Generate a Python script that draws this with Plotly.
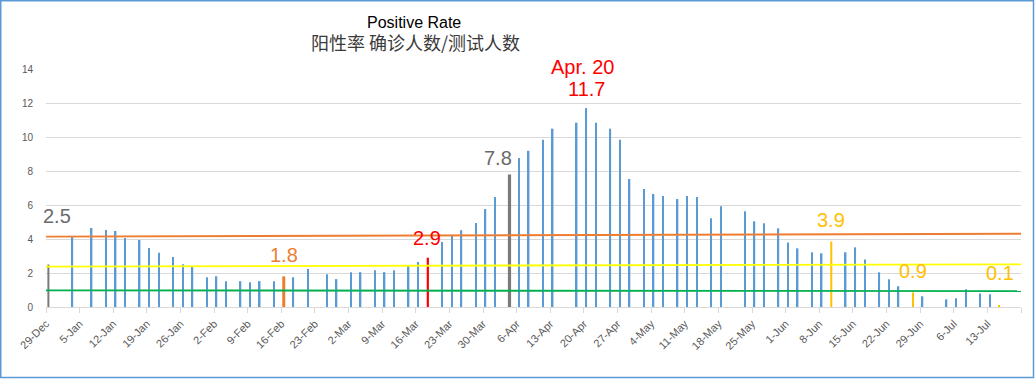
import plotly.graph_objects as go
import pandas as pd

# ---------------- data ----------------
tick_labels = ["29-Dec", "5-Jan", "12-Jan", "19-Jan", "26-Jan", "2-Feb", "9-Feb", "16-Feb",
               "23-Feb", "2-Mar", "9-Mar", "16-Mar", "23-Mar", "30-Mar", "6-Apr", "13-Apr",
               "20-Apr", "27-Apr", "4-May", "11-May", "18-May", "25-May", "1-Jun", "8-Jun",
               "15-Jun", "22-Jun", "29-Jun", "6-Jul", "13-Jul", ""]

blue_dates = ["2021-01-03", "2021-01-07", "2021-01-10", "2021-01-12", "2021-01-14", "2021-01-17",
              "2021-01-19", "2021-01-21", "2021-01-24", "2021-01-26", "2021-01-28", "2021-01-31",
              "2021-02-02", "2021-02-04", "2021-02-07", "2021-02-09", "2021-02-11", "2021-02-14",
              "2021-02-18", "2021-02-21", "2021-02-25", "2021-02-27", "2021-03-02", "2021-03-04",
              "2021-03-07", "2021-03-09", "2021-03-11", "2021-03-14", "2021-03-16", "2021-03-21",
              "2021-03-23", "2021-03-25", "2021-03-28", "2021-03-30", "2021-04-01", "2021-04-06",
              "2021-04-08", "2021-04-11", "2021-04-13", "2021-04-18", "2021-04-20", "2021-04-22",
              "2021-04-25", "2021-04-27", "2021-04-29", "2021-05-02", "2021-05-04", "2021-05-06",
              "2021-05-09", "2021-05-11", "2021-05-13", "2021-05-16", "2021-05-18", "2021-05-23",
              "2021-05-25", "2021-05-27", "2021-05-30", "2021-06-01", "2021-06-03", "2021-06-06",
              "2021-06-08", "2021-06-13", "2021-06-15", "2021-06-17", "2021-06-20", "2021-06-22",
              "2021-06-24", "2021-06-29", "2021-07-04", "2021-07-06", "2021-07-08", "2021-07-11",
              "2021-07-13"]
blue_values = [4.14, 4.65, 4.53, 4.47, 4.06, 3.94,
               3.47, 3.19, 2.94, 2.52, 2.36, 1.75,
               1.81, 1.52, 1.52, 1.46, 1.52, 1.52,
               1.75, 2.23, 1.93, 1.64, 2.05, 2.05,
               2.16, 2.05, 2.16, 2.44, 2.65, 3.82,
               4.17, 4.52, 4.94, 5.76, 6.47, 8.77,
               9.19, 9.84, 10.49, 10.84, 11.7, 10.84,
               10.49, 9.84, 7.53, 6.94, 6.65, 6.53,
               6.35, 6.53, 6.47, 5.22, 5.92, 5.63,
               5.04, 4.92, 4.63, 3.80, 3.45, 3.22,
               3.16, 3.22, 3.51, 2.80, 2.04, 1.63,
               1.22, 0.63, 0.45, 0.51, 1.04, 0.80,
               0.75]

hl_dates = ["2020-12-29", "2021-02-16", "2021-03-18", "2021-04-04", "2021-06-10", "2021-06-27", "2021-07-15"]
hl_values = [2.5, 1.8, 2.9, 7.8, 3.85, 0.85, 0.07]
hl_labels = ["2.5", "1.8", "2.9", "7.8", "3.9", "0.9", "0.1"]
hl_colors = ["#7A7A7A", "#ED7D31", "#FF0000", "#7A7A7A", "#FFC000", "#FFC000", "#FFC000"]
hl_text_colors = ["#6B6B6B", "#ED7D31", "#FF0000", "#6B6B6B", "#FFC000", "#FFC000", "#FFC000"]

peak_date = "2021-04-20"
peak_value = 11.7
peak_label_1 = "Apr. 20"
peak_label_2 = "11.7"

ref_colors = ["#ED7D31", "#FFFF00", "#00B050"]
ref_start_values = [4.14, 2.38, 0.98]
ref_end_values = [4.31, 2.51, 0.93]

title_en = "Positive Rate"
title_zh = "阳性率 确诊人数/测试人数"

# ---------------- layout geometry ----------------
W, H = 1035, 379
ML, MR, MT, MB = 46, 14, 69, 72
PW, PH = W - ML - MR, H - MT - MB
x_start = pd.Timestamp("2020-12-29")
x_end = pd.Timestamp("2021-07-20")
n_days = (x_end - x_start).days
px_per_day = PW / n_days
DAY_MS = 86400000


def px_to_ms(px):
    return px / px_per_day * DAY_MS


half_day = pd.Timedelta(hours=12)
blue_x = [pd.Timestamp(d) + half_day for d in blue_dates]
hl_x = [pd.Timestamp(d) + half_day for d in hl_dates]
hl_widths_px = [2.0, 3.0, 2.2, 3.2, 2.0, 1.2, 1.5]

fig = go.Figure()
fig.add_trace(go.Bar(x=blue_x, y=blue_values, marker_color="#5B9BD5",
                     marker_line_width=0, width=[px_to_ms(1.5)] * len(blue_x)))
fig.add_trace(go.Bar(x=hl_x, y=hl_values, marker_color=hl_colors,
                     marker_line_width=0, width=[px_to_ms(w) for w in hl_widths_px]))

shapes = []
for c, y0, y1 in zip(ref_colors, ref_start_values, ref_end_values):
    shapes.append(dict(type="line", xref="x", yref="y", x0=x_start, x1=x_end,
                       y0=y0, y1=y1, line=dict(color=c, width=1.8), layer="above"))
# outer border of chart area
shapes.append(dict(type="rect", xref="paper", yref="paper",
                   x0=(0.75 - ML) / PW, x1=(1033.5 - ML) / PW,
                   y0=(PH + MT - 377.5) / PH, y1=(PH + MT - 0.75) / PH,
                   line=dict(color="#5B9BD5", width=1.5), fillcolor="rgba(0,0,0,0)"))

LF = "Liberation Sans, Arial, sans-serif"
annotations = []
label_shifts = [(9, 49), (0, 21), (-1, 20), (-11, 16), (0, 22), (0, 22), (1, 33)]
for xd, v, t, col, (xs, ys) in zip(hl_x, hl_values, hl_labels, hl_text_colors, label_shifts):
    annotations.append(dict(x=xd, y=v, xref="x", yref="y", text=t, showarrow=False,
                            xshift=xs, yshift=ys, xanchor="center", yanchor="middle",
                            font=dict(family=LF, size=20, color=col)))
peak_x = pd.Timestamp(peak_date) + half_day
annotations.append(dict(x=peak_x, y=peak_value, xref="x", yref="y", text=peak_label_1,
                        showarrow=False, xshift=-4, yshift=41, xanchor="center", yanchor="middle",
                        borderpad=0, font=dict(family=LF, size=20, color="#FF0000")))
annotations.append(dict(x=peak_x, y=peak_value, xref="x", yref="y", text=peak_label_2,
                        showarrow=False, xshift=0, yshift=19, xanchor="center", yanchor="middle",
                        borderpad=0, font=dict(family=LF, size=20, color="#FF0000")))
annotations.append(dict(x=(414 - ML) / PW, y=(PH + MT - 22) / PH, xref="paper", yref="paper",
                        text=title_en, showarrow=False, xanchor="center", yanchor="middle",
                        font=dict(family=LF, size=16, color="#000000")))
annotations.append(dict(x=(415 - ML) / PW, y=(PH + MT - 42.5) / PH, xref="paper", yref="paper",
                        text=title_zh, showarrow=False, xanchor="center", yanchor="middle",
                        font=dict(family="Noto Sans CJK SC", size=18, color="#3A3A3A")))

tick_vals = pd.date_range(x_start, x_end, freq="7D")

fig.update_layout(
    width=W, height=H,
    margin=dict(l=ML, r=MR, t=MT, b=MB, pad=0),
    paper_bgcolor="white", plot_bgcolor="white",
    barmode="overlay", showlegend=False,
    shapes=shapes, annotations=annotations,
    font=dict(family=LF),
    xaxis=dict(type="date", range=[x_start, x_end], tickvals=tick_vals, ticktext=tick_labels,
               tickangle=-45, tickfont=dict(size=11, color="#595959"),
               showgrid=False, showline=True, linecolor="#D9D9D9", linewidth=1,
               ticks="outside", ticklen=5, tickcolor="#D9D9D9", zeroline=False),
    yaxis=dict(range=[0, 14], dtick=2, tickfont=dict(size=10, color="#595959"),
               showgrid=True, gridcolor="#D9D9D9", gridwidth=1, zeroline=False,
               showline=False, ticks="", ticklabelstandoff=12),
)

fig.write_html("out.html", config={"displayModeBar": False},
               post_script="document.body.style.margin='0';")
